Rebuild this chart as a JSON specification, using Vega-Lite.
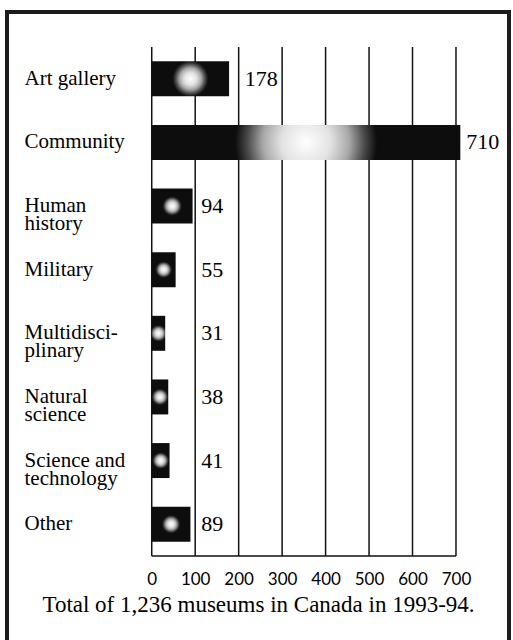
{
  "$schema": "https://vega.github.io/schema/vega-lite/v6.json",
  "autosize": {"type": "none"},
  "width": 502,
  "height": 636,
  "padding": {"left": 7, "top": 12, "right": 4, "bottom": 0},
  "background": "#ffffff",
  "config": {
    "view": {"stroke": "#1c1c1c", "strokeWidth": 4},
    "axisX": {
      "orient": "bottom", "offset": -83,
      "domain": false, "ticks": false, "tickSize": 0, "grid": false,
      "labelPadding": 6, "labelFont": "Lato", "labelFontSize": 17, "labelColor": "#000000",
      "labelFlush": false, "labelOverlap": false,
      "titleFont": "Liberation Serif", "titleFontSize": 23, "titleFontWeight": "normal",
      "titleColor": "#000000", "titlePadding": 6
    },
    "axisY": {
      "orient": "left", "offset": -17,
      "domain": false, "ticks": false, "tickSize": 0, "grid": false,
      "labelPadding": 0, "labelAlign": "left", "labelBaseline": "middle",
      "labelFont": "Liberation Serif", "labelFontSize": 21, "labelColor": "#000000",
      "labelLineHeight": 18, "labelLimit": 0
    }
  },
  "datasets": {
    "museums": [
      {"type": "Art gallery", "count": 178},
      {"type": "Community", "count": 710},
      {"type": "Human\nhistory", "count": 94},
      {"type": "Military", "count": 55},
      {"type": "Multidisci-\nplinary", "count": 31},
      {"type": "Natural\nscience", "count": 38},
      {"type": "Science and\ntechnology", "count": 41},
      {"type": "Other", "count": 89}
    ],
    "ticks": [
      {"tick": 0}, {"tick": 100}, {"tick": 200}, {"tick": 300},
      {"tick": 400}, {"tick": 500}, {"tick": 600}, {"tick": 700}
    ]
  },
  "layer": [
    {
      "data": {"name": "ticks"},
      "mark": {"type": "rule", "color": "#111111", "strokeWidth": 1.5},
      "encoding": {
        "x": {"field": "tick", "type": "quantitative", "scale": {"domain": [-333, 822], "nice": false, "zero": false},
              "axis": {"title": "Total of 1,236 museums in Canada in 1993-94.", "values": [0, 100, 200, 300, 400, 500, 600, 700], "labelFont": "Lato", "titleFont": "Liberation Serif"}},
        "y": {"datum": "Art gallery", "type": "nominal", "bandPosition": 0,
              "axis": {"title": null, "labelExpr": "split(datum.value, '\\n')", "labelFont": "Liberation Serif"}},
        "y2": {"datum": "Other", "bandPosition": 1}
      }
    },
    {
      "data": {"name": "ticks"},
      "mark": {"type": "rule", "color": "#111111", "strokeWidth": 1.5},
      "encoding": {
        "x": {"aggregate": "min", "field": "tick", "type": "quantitative", "scale": {"domain": [-333, 822], "nice": false, "zero": false},
              "axis": {"title": "Total of 1,236 museums in Canada in 1993-94.", "values": [0, 100, 200, 300, 400, 500, 600, 700], "labelFont": "Lato", "titleFont": "Liberation Serif"}},
        "x2": {"aggregate": "max", "field": "tick"},
        "y": {"datum": "Other", "type": "nominal", "bandPosition": 1,
              "axis": {"title": null, "labelExpr": "split(datum.value, '\\n')", "labelFont": "Liberation Serif"}}
      }
    },
    {
      "data": {"name": "museums"},
      "mark": {
        "type": "bar",
        "height": {"band": 0.55},
        "color": {
          "gradient": "radial",
          "x1": 0.5, "y1": 0.5, "r1": 0,
          "x2": 0.5, "y2": 0.5, "r2": 0.5,
          "stops": [
            {"offset": 0, "color": "#ffffff"},
            {"offset": 0.16, "color": "#e2e2e2"},
            {"offset": 0.28, "color": "#a8a8a8"},
            {"offset": 0.38, "color": "#4a4a4a"},
            {"offset": 0.46, "color": "#0d0d0d"},
            {"offset": 1, "color": "#0d0d0d"}
          ]
        }
      },
      "encoding": {
        "x": {
          "field": "count", "type": "quantitative",
          "scale": {"domain": [-333, 822], "nice": false, "zero": false},
          "axis": {"title": "Total of 1,236 museums in Canada in 1993-94.", "values": [0, 100, 200, 300, 400, 500, 600, 700], "labelFont": "Lato", "titleFont": "Liberation Serif"}
        },
        "y": {
          "field": "type", "type": "nominal",
          "scale": {
            "domain": ["Art gallery", "Community", "Human\nhistory", "Military", "Multidisci-\nplinary", "Natural\nscience", "Science and\ntechnology", "Other"],
            "paddingInner": 0, "paddingOuter": 0.998, "align": 0.2756
          },
          "axis": {"title": null, "labelExpr": "split(datum.value, '\\n')", "labelFont": "Liberation Serif"}
        }
      }
    },
    {
      "data": {"name": "museums"},
      "transform": [{"filter": "datum.count < 700"}],
      "mark": {"type": "text", "align": "left", "baseline": "middle", "dx": 6, "font": "Liberation Serif", "fontSize": 22, "color": "#000000"},
      "encoding": {
        "x": {"field": "count", "type": "quantitative", "bin": {"step": 100, "extent": [0, 800]}, "bandPosition": 1, "scale": {"domain": [-333, 822], "nice": false, "zero": false},
              "axis": {"title": "Total of 1,236 museums in Canada in 1993-94.", "values": [0, 100, 200, 300, 400, 500, 600, 700], "labelFont": "Lato", "titleFont": "Liberation Serif"}},
        "y": {"field": "type", "type": "nominal", "axis": {"title": null, "labelExpr": "split(datum.value, '\\n')", "labelFont": "Liberation Serif"}},
        "text": {"field": "count", "type": "quantitative"}
      }
    },
    {
      "data": {"name": "museums"},
      "transform": [{"filter": "datum.count >= 700"}],
      "mark": {"type": "text", "align": "left", "baseline": "middle", "dx": 6, "font": "Liberation Serif", "fontSize": 22, "color": "#000000"},
      "encoding": {
        "x": {"field": "count", "type": "quantitative", "scale": {"domain": [-333, 822], "nice": false, "zero": false},
              "axis": {"title": "Total of 1,236 museums in Canada in 1993-94.", "values": [0, 100, 200, 300, 400, 500, 600, 700], "labelFont": "Lato", "titleFont": "Liberation Serif"}},
        "y": {"field": "type", "type": "nominal", "axis": {"title": null, "labelExpr": "split(datum.value, '\\n')", "labelFont": "Liberation Serif"}},
        "text": {"field": "count", "type": "quantitative"}
      }
    }
  ]
}
